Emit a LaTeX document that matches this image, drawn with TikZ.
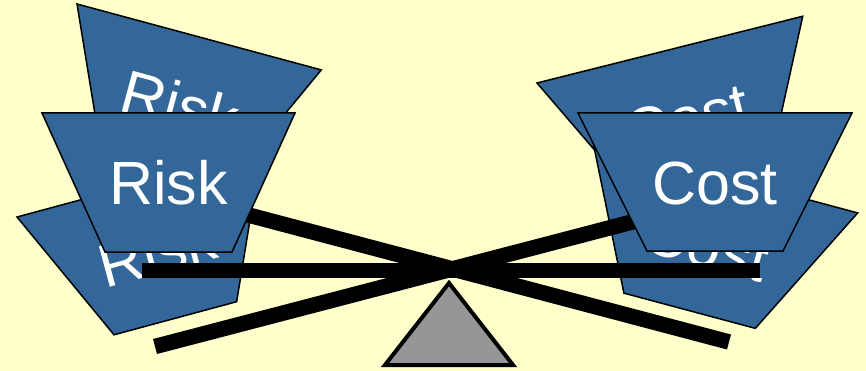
\documentclass[tikz,border=0pt]{standalone}
\usepackage{fontspec}
\setmainfont{Liberation Sans}
\definecolor{bg}{RGB}{255,255,204}
\definecolor{panel}{RGB}{51,102,153}
\definecolor{fulcrum}{RGB}{150,150,150}
\begin{document}
\begin{tikzpicture}[x=1pt,y=-1pt,
  panelbox/.style={fill=panel,draw=black,line width=1.5pt,line join=miter},
  word/.style={text=white,font=\fontsize{61}{70}\selectfont,anchor=base,inner sep=0pt,transform shape},
  beam/.style={draw=black,line width=15.5pt,line cap=butt},
  pivotbox/.style={fill=fulcrum,draw=black,line width=4pt,line join=miter}]
\fill[bg] (0,0) rectangle (866,371);
\useasboundingbox (0,0) rectangle (866,371);
% back panels
\begin{scope}[shift={(77,4)},rotate=-15.1]
  \draw[panelbox] (0,0) -- (253,0) -- (190,139) -- (63,139) -- cycle;
  \node[word] (riskA) at (126.5,92) {Risk};
\end{scope}
\begin{scope}[shift={(17,217)},rotate=15.1]
  \draw[panelbox] (0,0) -- (253,0) -- (190,139) -- (63,139) -- cycle;
  \node[word] (riskB) at (126.5,92) {Risk};
\end{scope}
\begin{scope}[shift={(537,83)},rotate=14.1]
  \draw[panelbox] (0,0) -- (274,0) -- (205,138) -- (69,138) -- cycle;
  \node[word] (costA) at (137,92) {Cost};
\end{scope}
\begin{scope}[shift={(593,142)},rotate=-15]
  \draw[panelbox] (0,0) -- (274,0) -- (205,138) -- (69,138) -- cycle;
  \node[word] (costB) at (137,92) {Cost};
\end{scope}
% beams
\coordinate (hl) at (142,270.5);
\coordinate (hr) at (760,270.5);
\coordinate (dl) at (220,207.5);
\coordinate (dr) at (729,342);
\coordinate (al) at (155,346.5);
\coordinate (ar) at (680,209.5);
\draw[beam] (hl) -- (hr);
\draw[beam] (dl) -- (dr);
\draw[beam] (al) -- (ar);
% fulcrum
\coordinate (apex) at (449,283);
\coordinate (bR) at (513,365);
\coordinate (bL) at (385,365);
\draw[pivotbox] (apex) -- (bR) -- (bL) -- cycle;
% front panels
\begin{scope}[shift={(42,113)}]
  \draw[panelbox] (0,0) -- (253,0) -- (190,139) -- (63,139) -- cycle;
  \node[word] (riskF) at (126.5,92) {Risk};
\end{scope}
\begin{scope}[shift={(578,113)}]
  \draw[panelbox] (0,0) -- (274,0) -- (205,138) -- (69,138) -- cycle;
  \node[word] (costF) at (137,92) {Cost};
\end{scope}
\end{tikzpicture}
\end{document}
